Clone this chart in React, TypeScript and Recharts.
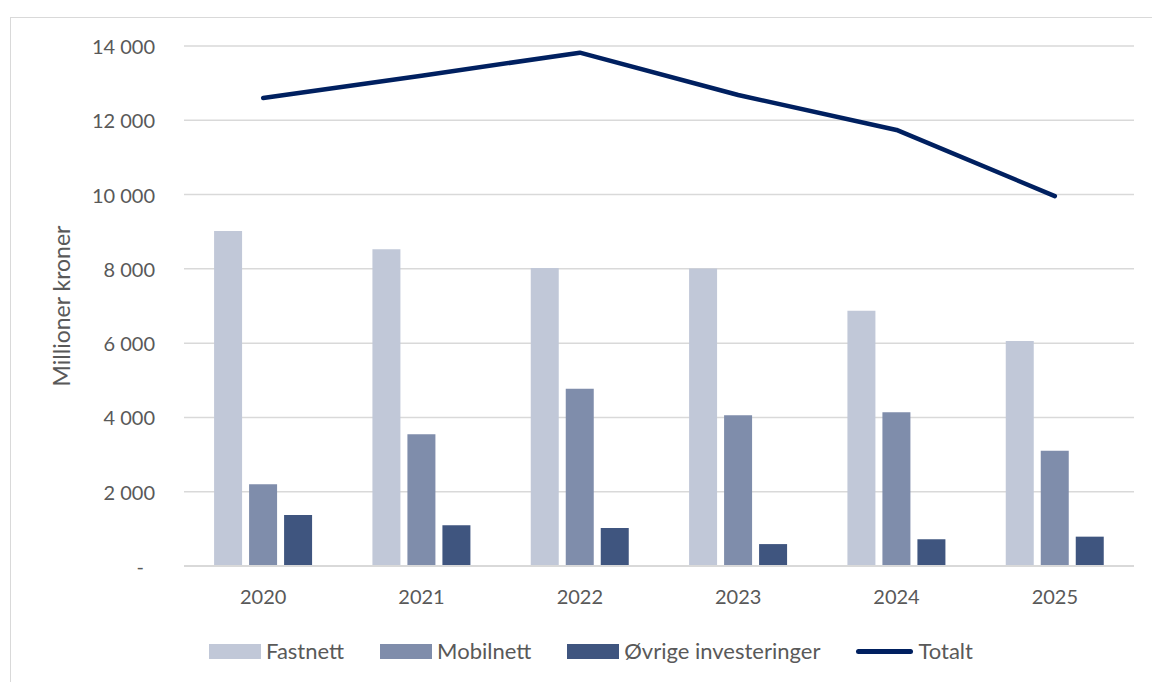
import React from "react";
import { ComposedChart, Bar, Line, XAxis, YAxis, CartesianGrid } from "recharts";

const years = ["2020", "2021", "2022", "2023", "2024", "2025"];
const fastnett = [9020, 8530, 8020, 8010, 6870, 6060];
const mobilnett = [2200, 3550, 4770, 4060, 4140, 3100];
const ovrige = [1370, 1100, 1020, 590, 720, 790];
const totalt = [12600, 13200, 13820, 12680, 11740, 9960];
const yTicks = [0, 2000, 4000, 6000, 8000, 10000, 12000, 14000];

const series = [
  { key: "fastnett", name: "Fastnett", color: "#C1C8D8", type: "bar" },
  { key: "mobilnett", name: "Mobilnett", color: "#7F8DAB", type: "bar" },
  { key: "ovrige", name: "Øvrige investeringer", color: "#3F557F", type: "bar" },
  { key: "totalt", name: "Totalt", color: "#002060", type: "line" },
];

const data = years.map((y, i) => ({
  year: y,
  fastnett: fastnett[i],
  mobilnett: mobilnett[i],
  ovrige: ovrige[i],
  totalt: totalt[i],
}));

const FONT = "Lato, 'Open Sans', sans-serif";
const TEXT = "#595959";

const fmt = (v: number) =>
  v === 0 ? "-" : String(v).replace(/\B(?=(\d{3})+(?!\d))/g, " ");

const YTick = (props: any) => {
  const { x, y, payload } = props;
  const isZero = payload.value === 0;
  return (
    <text
      x={x}
      y={y}
      dx={isZero ? -11 : 0}
      textAnchor="end"
      dominantBaseline="central"
      fill={TEXT}
      fontSize={20}
      fontFamily={FONT}
    >
      {fmt(payload.value)}
    </text>
  );
};

export default function App() {
  return (
    <div
      style={{
        position: "absolute",
        top: 0,
        left: 0,
        width: 1152,
        height: 682,
        overflow: "hidden",
        background: "#fff",
        fontFamily: FONT,
      }}
    >
      <div
        style={{
          position: "absolute",
          left: 10,
          top: 17,
          width: 1160,
          height: 700,
          border: "1.5px solid #D9D9D9",
          boxSizing: "border-box",
        }}
      />
      <div style={{ position: "absolute", left: 0, top: 0 }}>
        <ComposedChart
          width={1152}
          height={682}
          data={data}
          margin={{ top: 46, right: 18, bottom: 76, left: 104 }}
          barCategoryGap="19%"
          barGap={7}
        >
          <CartesianGrid vertical={false} stroke="#D9D9D9" strokeWidth={1.5} />
          <XAxis
            dataKey="year"
            height={40}
            axisLine={{ stroke: "#D9D9D9", strokeWidth: 2 }}
            tickLine={false}
            tickSize={0}
            tickMargin={24}
            tick={{ fill: TEXT, fontSize: 20, fontFamily: FONT }}
          />
          <YAxis
            width={80}
            domain={[0, 14000]}
            ticks={yTicks}
            interval={0}
            axisLine={false}
            tickLine={false}
            tickSize={0}
            tickMargin={29}
            tick={<YTick />}
            label={{
              value: "Millioner kroner",
              angle: -90,
              position: "center",
              dx: -82,
              fill: TEXT,
              fontSize: 23,
              fontFamily: FONT,
            }}
          />
          {series
            .filter((s) => s.type === "bar")
            .map((s) => (
              <Bar
                key={s.key}
                dataKey={s.key}
                name={s.name}
                fill={s.color}
                isAnimationActive={false}
              />
            ))}
          <Line
            type="linear"
            dataKey="totalt"
            name="Totalt"
            stroke="#002060"
            strokeWidth={4.5}
            strokeLinecap="round"
            strokeLinejoin="round"
            dot={false}
            activeDot={false}
            isAnimationActive={false}
          />
        </ComposedChart>
      </div>
      <div
        style={{
          position: "absolute",
          left: 209,
          top: 651,
          transform: "translateY(-50%)",
          display: "flex",
          alignItems: "center",
          whiteSpace: "nowrap",
          fontSize: 22,
          color: TEXT,
          fontFamily: FONT,
        }}
      >
        {series.map((s, i) => (
          <div
            key={s.key}
            style={{
              display: "flex",
              alignItems: "center",
              marginLeft: i === 0 ? 0 : 36,
            }}
          >
            {s.type === "bar" ? (
              <div style={{ width: 52, height: 15, background: s.color }} />
            ) : (
              <div
                style={{
                  width: 57,
                  height: 5,
                  borderRadius: 3,
                  background: s.color,
                }}
              />
            )}
            <span style={{ marginLeft: 5, lineHeight: "26px" }}>{s.name}</span>
          </div>
        ))}
      </div>
    </div>
  );
}
